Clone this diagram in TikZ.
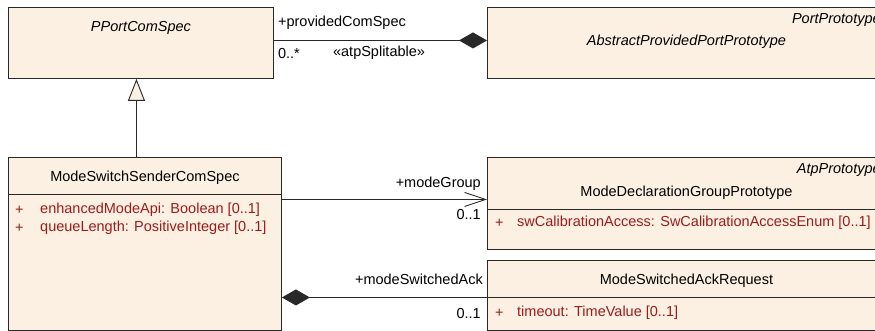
\documentclass[tikz,border=0pt]{standalone}
\usepackage{fontspec}
\setmainfont{Liberation Sans}
\usepackage{xcolor}
\usetikzlibrary{calc,arrows.meta,positioning}
\definecolor{classfill}{RGB}{251,240,226}
\definecolor{attrred}{RGB}{155,28,28}
\definecolor{lineclr}{RGB}{40,40,40}

\begin{document}
\begin{tikzpicture}[x=1pt, y=1pt, >=Stealth,
		umlclass/.style={draw=lineclr, line width=0.9pt, fill=classfill, anchor=north west, inner sep=0pt},
		umltext/.style={font=\fontsize{14.5}{17}\selectfont, inner sep=0pt},
		classname/.style={umltext},
		abstractname/.style={umltext, font=\fontsize{14.5}{17}\selectfont\itshape},
		attrtext/.style={umltext, text=attrred, anchor=west},
		rolelabel/.style={umltext},
		conn/.style={draw=lineclr, line width=0.9pt}]
		\def\diamondtip{Diamond[length=28pt,width=16pt]}
		\useasboundingbox (0,0) rectangle (875,-331);
		\clip (0,0) rectangle (875,-331);

		% Class boxes
		\node[umlclass, minimum width=265pt, minimum height=71pt] (pportComSpec) at (8,-7) {};
		\node[umlclass, minimum width=398pt, minimum height=71pt] (abstractPort) at (487,-7) {};
		\node[umlclass, minimum width=273pt, minimum height=173pt] (senderComSpec) at (8,-157) {};
		\node[umlclass, minimum width=398pt, minimum height=92pt] (modeGroupProto) at (487,-157) {};
		\node[umlclass, minimum width=398pt, minimum height=70pt] (ackRequest) at (487,-260) {};

		% Compartment lines
		\draw[conn] ($(senderComSpec.north west)+(0,-37)$) -- ($(senderComSpec.north east)+(0,-37)$);
		\draw[conn] ($(modeGroupProto.north west)+(0,-52)$) -- ($(modeGroupProto.north east)+(0,-52)$);
		\draw[conn] ($(ackRequest.north west)+(0,-37)$) -- ($(ackRequest.north east)+(0,-37)$);

		% Class names
		\node[abstractname] (pportName) at ($(pportComSpec.north)+(0,-21)$) {PPortComSpec};
		\node[abstractname, anchor=east] (portParent) at ($(abstractPort.north east)+(-5,-13)$) {PortPrototype};
		\node[abstractname] (abstractName) at ($(abstractPort.north)+(0,-35)$) {AbstractProvidedPortPrototype};
		\node[classname] (senderName) at ($(senderComSpec.north)+(0,-21)$) {ModeSwitchSenderComSpec};
		\node[abstractname, anchor=east] (groupParent) at ($(modeGroupProto.north east)+(-5,-13)$) {AtpPrototype};
		\node[classname] (groupName) at ($(modeGroupProto.north)+(0,-36)$) {ModeDeclarationGroupPrototype};
		\node[classname] (ackName) at ($(ackRequest.north)+(0,-21)$) {ModeSwitchedAckRequest};

		% Attributes
		\node[attrtext] (senderVis1) at ($(senderComSpec.north west)+(7,-53)$) {+};
		\node[attrtext] (senderAttr1) at ($(senderComSpec.north west)+(32,-53)$) {enhancedModeApi: Boolean [0..1]};
		\node[attrtext] (senderVis2) at ($(senderComSpec.north west)+(7,-71)$) {+};
		\node[attrtext] (senderAttr2) at ($(senderComSpec.north west)+(32,-71)$) {queueLength: PositiveInteger [0..1]};
		\node[attrtext] (groupVis) at ($(modeGroupProto.north west)+(8,-66)$) {+};
		\node[attrtext] (groupAttr) at ($(modeGroupProto.north west)+(30,-66)$) {swCalibrationAccess: SwCalibrationAccessEnum [0..1]};
		\node[attrtext] (ackVis) at ($(ackRequest.north west)+(8,-53)$) {+};
		\node[attrtext] (ackAttr) at ($(ackRequest.north west)+(30,-53)$) {timeout: TimeValue [0..1]};

		% Generalization
		\coordinate (genTop) at ($(pportComSpec.south)+(-4.5,0)$);
		\draw[conn, -{Triangle[open, length=22pt, width=17pt, fill=classfill]}] (senderComSpec.north -| genTop) -- (genTop);

		% Composition providedComSpec
		\coordinate (provEnd) at ($(abstractPort.west)+(0,2.5)$);
		\draw[conn, \diamondtip-] (provEnd) -- (pportComSpec.east |- provEnd);
		\node[rolelabel, anchor=west] (provRole) at ($(pportComSpec.east |- provEnd)+(4,18)$) {+providedComSpec};
		\node[rolelabel, anchor=west] (provMult) at ($(pportComSpec.east |- provEnd)+(4,-13)$) {0..*};
		\node[rolelabel, anchor=west] (provStereo) at ($(pportComSpec.east |- provEnd)+(59,-12)$) {«atpSplitable»};

		% Association modeGroup
		\coordinate (groupEnd) at ($(modeGroupProto.west)+(0,4)$);
		\draw[conn, -{Straight Barb[length=21pt, width=14pt]}] (senderComSpec.east |- groupEnd) -- (groupEnd);
		\node[rolelabel, anchor=east] (groupRole) at ($(groupEnd)+(-6,16)$) {+modeGroup};
		\node[rolelabel, anchor=east] (groupMult) at ($(groupEnd)+(-6,-15)$) {0..1};

		% Composition modeSwitchedAck
		\coordinate (ackStart) at ($(ackRequest.west)+(0,-2)$);
		\draw[conn, -\diamondtip] (ackStart) -- (senderComSpec.east |- ackStart);
		\node[rolelabel, anchor=east] (ackRole) at ($(ackStart)+(-4,18)$) {+modeSwitchedAck};
		\node[rolelabel, anchor=east] (ackMult) at ($(ackStart)+(-6,-16)$) {0..1};
	\end{tikzpicture}
\end{document}
